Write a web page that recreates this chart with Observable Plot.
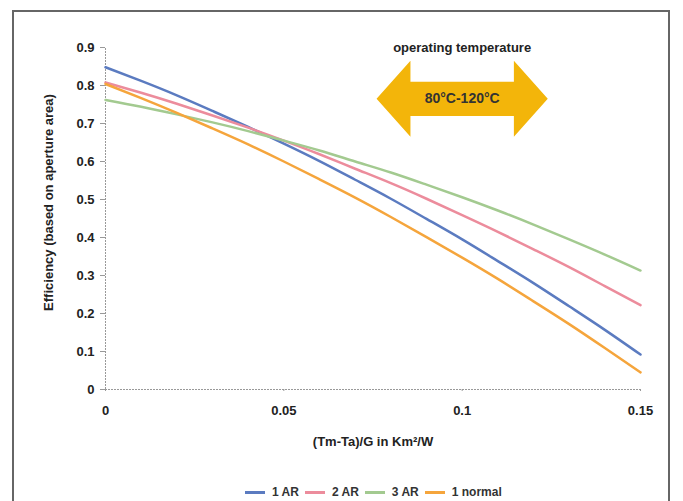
<!DOCTYPE html>
<html>
<head>
<meta charset="utf-8">
<script src="https://cdn.jsdelivr.net/npm/d3@7"></script>
<script src="https://cdn.jsdelivr.net/npm/@observablehq/plot@0.6"></script>
<style>
  html, body { margin: 0; padding: 0; background: #fff; }
  #wrap { position: relative; width: 683px; height: 501px; overflow: hidden; font-family: "Liberation Sans", Arial, sans-serif; }
  #frame { position: absolute; left: 12px; top: 10px; width: 658px; height: 600px; border: 2px solid #666; box-sizing: border-box; }
  #chart svg text { font-weight: bold; }
  #legend { display: flex; align-items: center; padding-left: 245px; margin-top: 12px; height: 20px; font-size: 12px; font-weight: bold; color: #333; }
  #legend .sw { width: 20px; height: 3px; margin-right: 7px; }
  #legend .lb { margin-right: 6px; white-space: nowrap; }
</style>
</head>
<body>
<div id="wrap">
  <div id="frame"></div>
  <div id="chart"></div>
  <div id="legend"></div>
</div>
<script>
// ---- data ----
const xValues = [0, 0.01, 0.02, 0.03, 0.04, 0.05, 0.06, 0.07, 0.08, 0.09, 0.10, 0.11, 0.12, 0.13, 0.14, 0.15];
const series = ["1 AR", "2 AR", "3 AR", "1 normal"];
const colors = ["#5B7BC0", "#EC8C9C", "#A3CA90", "#F5A53C"];
const eff1AR    = [0.848, 0.812, 0.774, 0.733, 0.691, 0.647, 0.601, 0.552, 0.502, 0.449, 0.395, 0.338, 0.280, 0.219, 0.157, 0.092];
const eff2AR    = [0.808, 0.781, 0.752, 0.721, 0.689, 0.655, 0.619, 0.581, 0.543, 0.502, 0.459, 0.415, 0.369, 0.322, 0.272, 0.222];
const eff3AR    = [0.762, 0.744, 0.724, 0.703, 0.680, 0.655, 0.629, 0.600, 0.571, 0.539, 0.506, 0.471, 0.434, 0.395, 0.355, 0.313];
const eff1Norm  = [0.804, 0.767, 0.728, 0.687, 0.645, 0.600, 0.553, 0.505, 0.454, 0.401, 0.347, 0.291, 0.232, 0.172, 0.109, 0.045];
const yTicks = [0, 0.1, 0.2, 0.3, 0.4, 0.5, 0.6, 0.7, 0.8, 0.9];
const xTicks = [0, 0.05, 0.1, 0.15];
const xTitle = "(Tm-Ta)/G in Km²/W";
const yTitle = "Efficiency (based on aperture area)";
const annotTitle = "operating temperature";
const annotRange = "80°C-120°C";
// annotation arrow (data units)
const arrowCX = 0.1, arrowCY = 0.765, arrowHalfLen = 0.024, arrowHeadLen = 0.0095, arrowShaft = 0.045, arrowHead = 0.1;

const seriesValues = [eff1AR, eff2AR, eff3AR, eff1Norm];
const table = [];
series.forEach((s, i) => xValues.forEach((x, j) => table.push({series: s, x, eff: seriesValues[i][j]})));

const L = arrowCX - arrowHalfLen, R = arrowCX + arrowHalfLen;
const arrowPts = [
  [L, arrowCY], [L + arrowHeadLen, arrowCY + arrowHead], [L + arrowHeadLen, arrowCY + arrowShaft],
  [R - arrowHeadLen, arrowCY + arrowShaft], [R - arrowHeadLen, arrowCY + arrowHead], [R, arrowCY],
  [R - arrowHeadLen, arrowCY - arrowHead], [R - arrowHeadLen, arrowCY - arrowShaft],
  [L + arrowHeadLen, arrowCY - arrowShaft], [L + arrowHeadLen, arrowCY - arrowHead]
];

const chart = Plot.plot({
  width: 683, height: 470,
  marginLeft: 105, marginRight: 43, marginTop: 47, marginBottom: 81,
  style: {fontFamily: "'Liberation Sans', Arial, sans-serif", background: "transparent", color: "#222"},
  x: {domain: [0, 0.15]},
  y: {domain: [0, 0.9]},
  color: {domain: series, range: colors},
  marks: [
    Plot.axisY(yTicks, {tickSize: 5, tickPadding: 6, fontSize: 13, stroke: "#999", fill: "#222",
      tickFormat: d => d === 0 ? "0" : d.toFixed(1), label: null}),
    Plot.axisX(xTicks, {tickSize: 2, tickPadding: 14, fontSize: 13, stroke: "#999", fill: "#222",
      tickFormat: d => String(d), label: null}),
    Plot.ruleX([0], {y1: 0, y2: 0.9, stroke: "#999", strokeDasharray: "2,1"}),
    Plot.ruleY([0], {x1: 0, x2: 0.15, stroke: "#999", strokeDasharray: "2,1"}),
    Plot.line(table, {x: "x", y: "eff", z: "series", stroke: "series", strokeWidth: 2.5, curve: "natural"}),
    Plot.line(arrowPts, {x: d => d[0], y: d => d[1], fill: "#F3B50A", stroke: "none", curve: "linear-closed"}),
    Plot.text([annotTitle], {x: arrowCX, y: 0.9, text: d => d, fontSize: 13, fill: "#222"}),
    Plot.text([annotRange], {x: arrowCX, y: arrowCY, text: d => d, fontSize: 14, fill: "#333"}),
    Plot.text([xTitle], {frameAnchor: "bottom", dy: 56, text: d => d, fontSize: 13, fill: "#222"}),
    Plot.text([yTitle], {frameAnchor: "left", textAnchor: "middle", lineAnchor: "middle", dx: -57, dy: -16, rotate: -90, text: d => d, fontSize: 13, fill: "#222"})
  ]
});
document.getElementById("chart").appendChild(chart);

const legend = document.getElementById("legend");
series.forEach((s, i) => {
  const sw = document.createElement("span"); sw.className = "sw"; sw.style.background = colors[i];
  const lb = document.createElement("span"); lb.className = "lb"; lb.textContent = s;
  legend.appendChild(sw); legend.appendChild(lb);
});
</script>
</body>
</html>
